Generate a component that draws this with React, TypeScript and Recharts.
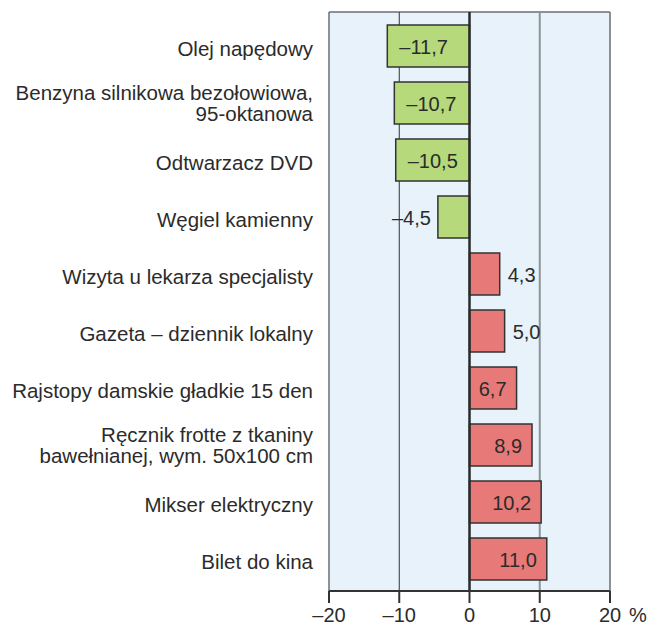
import React from "react";
import {
  BarChart,
  Bar,
  Cell,
  XAxis,
  YAxis,
  CartesianGrid,
  ReferenceLine,
  LabelList,
} from "recharts";

const categories = [
  "Olej napędowy",
  "Benzyna silnikowa bezołowiowa,\n95-oktanowa",
  "Odtwarzacz DVD",
  "Węgiel kamienny",
  "Wizyta u lekarza specjalisty",
  "Gazeta – dziennik lokalny",
  "Rajstopy damskie gładkie 15 den",
  "Ręcznik frotte z tkaniny\nbawełnianej, wym. 50x100 cm",
  "Mikser elektryczny",
  "Bilet do kina",
];
const values = [-11.7, -10.7, -10.5, -4.5, 4.3, 5.0, 6.7, 8.9, 10.2, 11.0];
const xTicks = [-20, -10, 0, 10, 20];
const xDomain = [-20, 20];

const data = categories.map((name, i) => ({ name, value: values[i] }));

const FONT = "'Liberation Sans', Arial, Helvetica, sans-serif";
const TEXT = "#2b2b2b";
const GREEN = "#b5d97b";
const RED = "#e77978";

const fmt = (v: number) =>
  (v < 0 ? "\u2013" : "") + Math.abs(v).toFixed(1).replace(".", ",");

// map a value to pixels with the axis scale (fallback: linear over plot)
const xPos = (props: any, v: number) => {
  const s = props?.xAxis?.scale;
  if (typeof s === "function") return s(v);
  const o = props.offset;
  return o.left + ((v - xDomain[0]) / (xDomain[1] - xDomain[0])) * o.width;
};

function CategoryTick(props: any) {
  const { x, y, payload } = props;
  const lines = String(payload.value).split("\n");
  if (lines.length === 1) {
    return (
      <text x={x - 16} y={y + 10} textAnchor="end" fill={TEXT} fontSize={20.5} fontFamily={FONT}>
        {lines[0]}
      </text>
    );
  }
  // two separate text rows
  return (
    <g>
      {lines.map((l, i) => (
        <text
          key={i}
          x={x - 16}
          y={y - 3 + i * 21}
          textAnchor="end"
          fill={TEXT}
          fontSize={20.5}
          fontFamily={FONT}
        >
          {l}
        </text>
      ))}
    </g>
  );
}

function ValueTick(props: any) {
  const { x, y, payload } = props;
  const v = payload.value as number;
  return (
    <g>
      <text x={x} y={y + 19} textAnchor="middle" fill={TEXT} fontSize={20} fontFamily={FONT}>
        {v < 0 ? "\u2013" + Math.abs(v) : String(v)}
      </text>
      {v === 20 && (
        <text x={x + 19} y={y + 19} textAnchor="start" fill={TEXT} fontSize={20} fontFamily={FONT}>
          %
        </text>
      )}
    </g>
  );
}

function BarValue(props: any) {
  const { x, y, width, height, value } = props;
  const v = value as number;
  const left = Math.min(x, x + width);
  const right = Math.max(x, x + width);
  const cy = y + height / 2 + 7.5;
  const inside = Math.abs(v) >= 6;
  let tx: number;
  let anchor: "start" | "end";
  if (v >= 0) {
    tx = inside ? right - 10 : right + 8;
    anchor = inside ? "end" : "start";
  } else {
    tx = inside ? left + 12 : left - 7;
    anchor = inside ? "start" : "end";
  }
  return (
    <text x={tx} y={cy} textAnchor={anchor} fill={TEXT} fontSize={20} fontFamily={FONT}>
      {fmt(v)}
    </text>
  );
}

export default function App() {
  return (
    <div style={{ position: "absolute", left: 0, top: 0, background: "#fff" }}>
      <BarChart
        width={648}
        height={632}
        data={data}
        layout="vertical"
        margin={{ top: 12, right: 38, bottom: 0, left: 0 }}
      >
        <CartesianGrid
          fill="#e7f2fa"
          stroke="#6b6f73"
          strokeWidth={1.5}
          horizontalCoordinatesGenerator={(p: any) => [p.offset.top]}
          verticalCoordinatesGenerator={(p: any) => [xPos(p, -20), xPos(p, 20)]}
        />
        <CartesianGrid
          horizontal={false}
          stroke="#333"
          strokeWidth={1}
          verticalCoordinatesGenerator={(p: any) => [xPos(p, -10)]}
        />
        <CartesianGrid
          horizontal={false}
          stroke="#8c9499"
          strokeWidth={2}
          verticalCoordinatesGenerator={(p: any) => [xPos(p, 10)]}
        />
        <XAxis
          type="number"
          domain={xDomain}
          ticks={xTicks}
          height={41}
          tickSize={12}
          tickMargin={0}
          axisLine={{ stroke: "#333", strokeWidth: 2 }}
          tickLine={{ stroke: "#333", strokeWidth: 2 }}
          tick={<ValueTick />}
        />
        <YAxis
          type="category"
          dataKey="name"
          width={329}
          axisLine={false}
          tickLine={false}
          tickSize={0}
          tickMargin={0}
          padding={{ top: 5, bottom: 4 }}
          interval={0}
          tick={<CategoryTick />}
        />
        <Bar dataKey="value" barSize={42} stroke="#333" strokeWidth={1.5} isAnimationActive={false}>
          {data.map((d, i) => (
            <Cell key={i} fill={d.value < 0 ? GREEN : RED} />
          ))}
          <LabelList dataKey="value" content={<BarValue />} />
        </Bar>
        <ReferenceLine x={0} stroke="#2a2a2a" strokeWidth={2.5} />
      </BarChart>
    </div>
  );
}
